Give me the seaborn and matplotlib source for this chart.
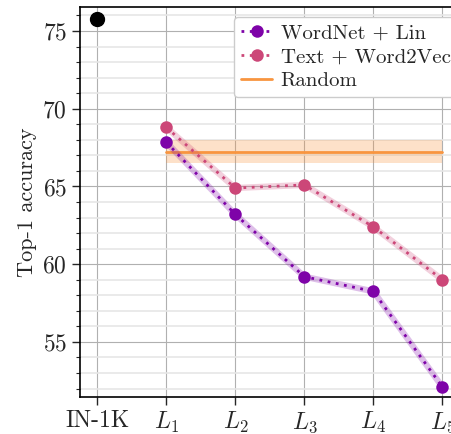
import numpy as np
import pandas as pd
import matplotlib
matplotlib.use("Agg")
import matplotlib.pyplot as plt
import seaborn as sns
from matplotlib.ticker import MultipleLocator

# values
levels = ["IN-1K", "$L_1$", "$L_2$", "$L_3$", "$L_4$", "$L_5$"]
in1k_acc = 75.8
wordnet_lin = [67.85, 63.2, 59.2, 58.25, 52.1]
text_w2v = [68.8, 64.9, 65.1, 62.4, 59.0]
random_mean = 67.25
random_low = 66.5
random_high = 68.0

sns.set_style("ticks")
plt.rcParams['font.family'] = ['cmr10', 'DejaVu Serif']
plt.rcParams['mathtext.fontset'] = 'cm'
plt.rcParams['axes.formatter.use_mathtext'] = True
plt.rcParams['axes.unicode_minus'] = False

pal = sns.color_palette("plasma", as_cmap=True)
c_wn = pal(0.25)
c_tw = pal(0.5)
c_rand = pal(0.75)

fig = plt.figure(figsize=(4.52, 4.34), dpi=100)
ax = fig.add_axes([0.177, 0.085, 0.84, 0.899])

xs = np.arange(1, 6)
df = pd.DataFrame({"x": xs, "wn": wordnet_lin, "tw": text_w2v})

# random baseline band
ax.fill_between([1, 5], random_low, random_high, color=c_rand, alpha=0.28, lw=0, zorder=2)
ax.plot([1, 5], [random_mean, random_mean], color=c_rand, lw=2, label="Random", zorder=3)

for col, c, lab in [("wn", c_wn, "WordNet + Lin"), ("tw", c_tw, "Text + Word2Vec")]:
    sns.lineplot(data=df, x="x", y=col, ax=ax, color=c, lw=4.5, alpha=0.25, legend=False, zorder=3)
    sns.lineplot(data=df, x="x", y=col, ax=ax, color=c, lw=2, linestyle=(0, (1, 2)), marker="o",
                 markersize=9, markeredgewidth=0, label=lab, zorder=4)

ax.plot([0], [in1k_acc], "o", color="black", markersize=10, zorder=5)

ax.set_xlim(-0.25, 5.25)
ax.set_ylim(51.45, 76.55)
ax.set_xticks(range(6))
ax.set_xticklabels(levels, fontsize=17)
ax.yaxis.set_major_locator(MultipleLocator(5))
ax.yaxis.set_minor_locator(MultipleLocator(1))
ax.tick_params(axis="y", which="major", labelsize=17, length=6, width=1)
ax.tick_params(axis="y", which="minor", length=3, width=0.8)
ax.tick_params(axis="x", length=6, width=1)
ax.grid(which="major", color="#b0b0b0", lw=0.8, zorder=0)
ax.grid(which="minor", axis="y", color="#e6e6e6", lw=1.2, zorder=0)
ax.set_axisbelow(True)
for s in ax.spines.values():
    s.set_linewidth(1.2)
    s.set_color("black")

ax.set_xlabel("")
ax.set_ylabel("Top-1 accuracy", fontsize=16)

h, l = ax.get_legend_handles_labels()
order = [l.index("WordNet + Lin"), l.index("Text + Word2Vec"), l.index("Random")]
ax.legend([h[i] for i in order], [l[i] for i in order], loc="upper left",
          bbox_to_anchor=(0.405, 0.975), fontsize=15, handlelength=1.5,
          handletextpad=0.4, borderpad=0.35, labelspacing=0.25, framealpha=1,
          borderaxespad=0)

fig.savefig("out.png", dpi=100)
